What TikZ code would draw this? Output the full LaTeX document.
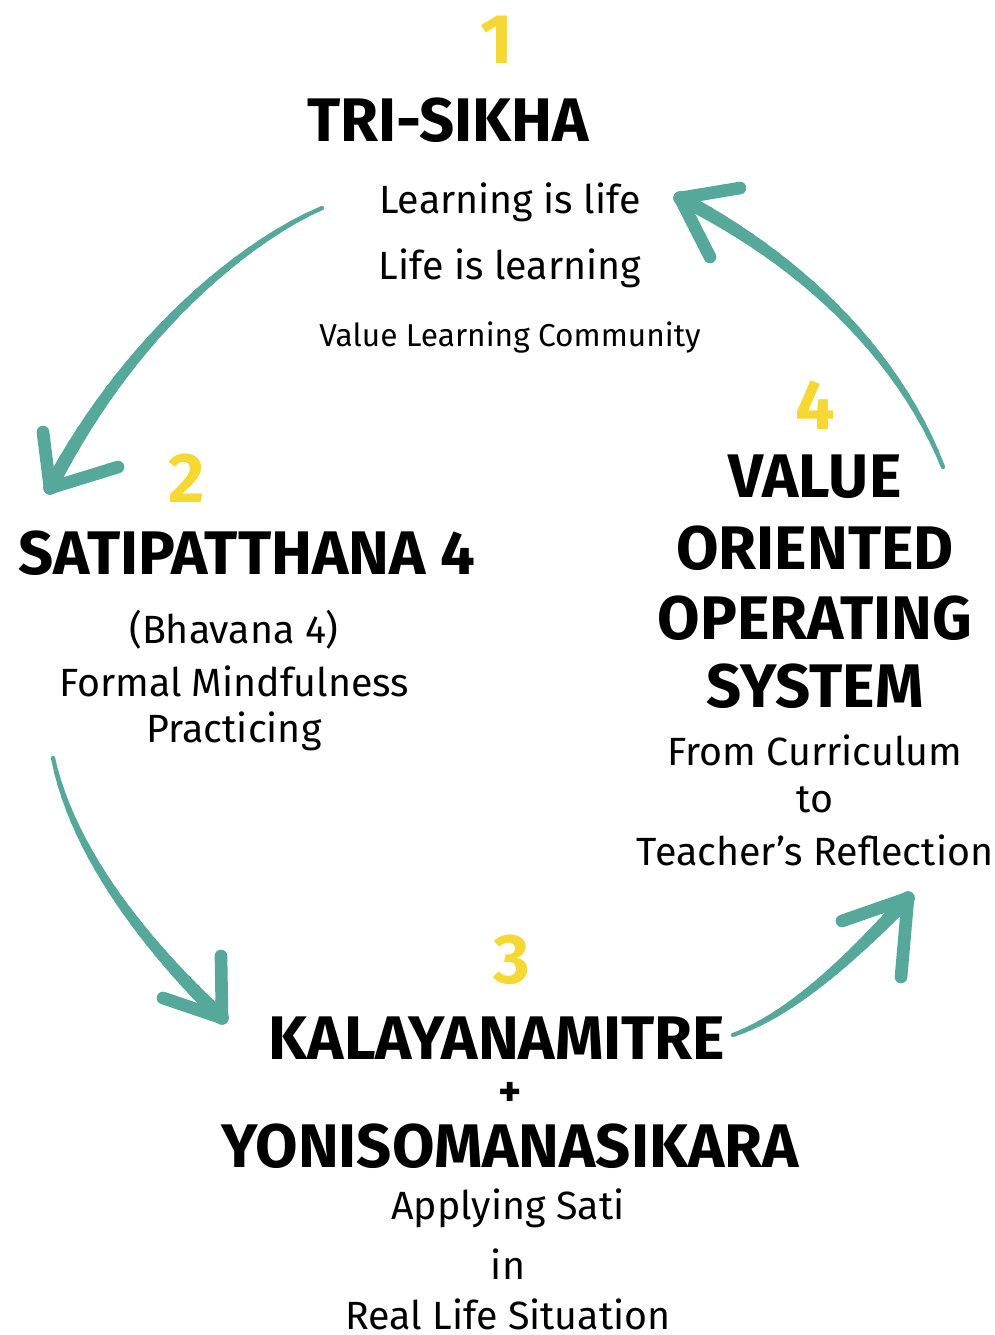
\documentclass[tikz,border=0pt]{standalone}
\usepackage{fontspec}
\setmainfont{Fira Sans}
\usetikzlibrary{decorations.markings}
\definecolor{brushteal}{HTML}{56A89A}
\definecolor{numyellow}{HTML}{F6D835}

% drops 24 named points along a stroke, used for the tapered brush
\tikzset{
  brush/.style={postaction={decorate},decoration={markings,
    mark=between positions 0 and 0.97 step 1/24 with
    {\coordinate (#1-\pgfkeysvalueof{/pgf/decoration/mark info/sequence number});}}},
  barb/.style={draw=brushteal,line width=3.6pt,line cap=round}
}

\begin{document}
\begin{tikzpicture}[x=0.01cm,y=-0.01cm]
\tikzstyle{every node}+=[inner sep=0pt]
\tikzstyle{num}=[text=numyellow,font=\bfseries\fontsize{20}{20}\selectfont]
\tikzstyle{head}=[font=\bfseries\fontsize{17.5}{17.5}\selectfont]
\tikzstyle{body}=[font=\fontsize{11.2}{11.2}\selectfont]
\tikzstyle{small}=[font=\fontsize{9}{9}\selectfont]
\useasboundingbox (0,0) rectangle (995,1335);

% step 1
\node[num] (n1) at (497,40) {1};
\node[head] (trisikha) at (448,120) {TRI-SIKHA};
\node[body] (learn1) at (510,202) {Learning is life};
\node[body] (learn2) at (510,268) {Life is learning};
\node[small] (vlc) at (510,338) {Value Learning Community};

% step 2
\node[num] (n2) at (187,478) {2};
\node[head] (sati) at (247,553) {SATIPATTHANA 4};
\node[body] (bhav) at (234,630) {(Bhavana 4)};
\node[body] (formal) at (234,681) {Formal Mindfulness};
\node[body] (pract) at (234,731) {Practicing};

% step 3
\node[num] (n3) at (512,960) {3};
\node[head] (kala) at (497,1038) {KALAYANAMITRE};
\node[head,font=\bfseries\fontsize{12.5}{12.5}\selectfont] (plus) at (510,1094) {+};
\node[head] (yoni) at (510,1146) {YONISOMANASIKARA};
\node[body] (apply) at (508,1208) {Applying Sati};
\node[body] (in) at (508,1264) {in};
\node[body] (real) at (508,1314) {Real Life Situation};

% step 4
\node[num] (n4) at (815,405) {4};
\node[head] (value) at (815,477) {VALUE};
\node[head] (orient) at (815,548) {ORIENTED};
\node[head] (oper) at (815,618) {OPERATING};
\node[head] (syst) at (815,686) {SYSTEM};
\node[body] (curr) at (815,750) {From Curriculum};
\node[body] (to) at (815,800) {to};
\node[body] (refl) at (815,850) {Teacher’s Reflection};

% tails and tips of the four arrows
\coordinate (t1) at (322,208);  \coordinate (a1-tip) at (50,488);
\coordinate (t2) at (53,758);   \coordinate (a2-tip) at (222,1018);
\coordinate (t3) at (733,1035); \coordinate (a3-tip) at (908,898);
\coordinate (t4) at (943,467);  \coordinate (a4-tip) at (680,198);

\path[brush=a1] (t1) .. controls (265,232) and (140,315) .. (a1-tip);
\path[brush=a2] (t2) .. controls (70,840) and (130,930) .. (a2-tip);
\path[brush=a3] (t3) .. controls (790,1015) and (850,960) .. (a3-tip);
\path[brush=a4] (t4) .. controls (905,370) and (820,270) .. (a4-tip);

% shafts get thicker towards the head
\foreach \n in {a1,a2,a3,a4}{
  \foreach \i [evaluate=\i as \j using int(\i+1)] in {1,...,23}
    \draw[brushteal,line cap=round,line width=1.1pt+0.12pt*\i] (\n-\i) -- (\n-\j);
  \draw[brushteal,line cap=round,line width=3.9pt] (\n-24) -- (\n-tip);
}

% heads
\draw[barb] (a1-tip) -- (43,432);  \draw[barb] (a1-tip) -- (118,467);
\draw[barb] (a2-tip) -- (221,956); \draw[barb] (a2-tip) -- (163,998);
\draw[barb] (a3-tip) -- (842,921); \draw[barb] (a3-tip) -- (901,977);
\draw[barb] (a4-tip) -- (740,188); \draw[barb] (a4-tip) -- (710,257);
\end{tikzpicture}
\end{document}
